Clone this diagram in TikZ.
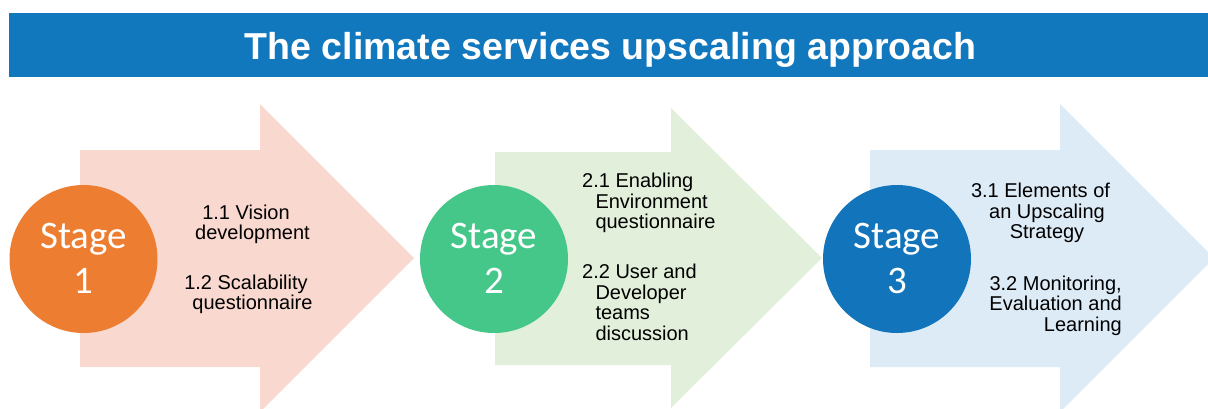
\documentclass[tikz,border=0pt]{standalone}
\usepackage{fontspec}
\setmainfont{Liberation Sans}
\newfontfamily\stagefont{Carlito}
\definecolor{titleblue}{HTML}{1278BE}
\definecolor{pinkarrow}{HTML}{F8D8CF}
\definecolor{greenarrow}{HTML}{E2EFDA}
\definecolor{bluearrow}{HTML}{DDEBF7}
\definecolor{stageorange}{HTML}{ED7D31}
\definecolor{stagegreen}{HTML}{45C78A}
\definecolor{stageblue}{HTML}{1274BA}
\newcommand{\firstline}{\rule{0pt}{15pt}}
\begin{document}
\begin{tikzpicture}[x=1pt,y=-1pt,
  stagecircle/.style={circle,minimum size=148pt,inner sep=0pt},
  stagelabel/.style={anchor=base,inner sep=0pt,text=white,
    font=\stagefont\fontsize{39}{39}\selectfont},
  steptext/.style={inner sep=0pt,font=\fontsize{20}{20.5}\selectfont},
  titletext/.style={anchor=base,inner sep=0pt,text=white,
    font=\bfseries\fontsize{37.5}{37.5}\selectfont}]
\useasboundingbox (0,0) rectangle (1208,408);

% title banner
\fill[titleblue] (9,13) rectangle (1208,77);
\node[titletext] (title) at (610.5,59.3) {The climate services upscaling approach};

% stage arrows
\begin{scope}
\clip (0,0) rectangle (1208,408);
\fill[pinkarrow] (80,150) -- (260,150) -- (260,104) -- (414,258)
  -- (260,412) -- (260,367) -- (80,367) -- cycle;
\fill[greenarrow] (495,152) -- (671,152) -- (671,108) -- (822,258)
  -- (671,408) -- (671,365) -- (495,365) -- cycle;
\fill[bluearrow] (870,150) -- (1060,150) -- (1060,104) -- (1214,258)
  -- (1060,412) -- (1060,367) -- (870,367) -- cycle;
\end{scope}

% stage circles
\node[stagecircle,fill=stageorange] (c1) at (83.5,259) {};
\node[stagecircle,fill=stagegreen]  (c2) at (494,259) {};
\node[stagecircle,fill=stageblue]   (c3) at (897,259) {};
\node[stagelabel] (s1a) at (83.5,248) {Stage};
\node[stagelabel] (s1b) at (83.5,293) {1};
\node[stagelabel] (s2a) at (494,248) {Stage};
\node[stagelabel] (s2b) at (494,293) {2};
\node[stagelabel] (s3a) at (897,248) {Stage};
\node[stagelabel] (s3b) at (897,293) {3};

% stage 1 steps
\node[steptext,align=center,anchor=north] (t11) at (246,204)
  {\firstline 1.1 Vision\\\hspace*{13pt}development};
\node[steptext,align=center,anchor=north] (t12) at (246,274)
  {\firstline 1.2 Scalability\\\hspace*{13pt}questionnaire};

% stage 2 steps
\node[steptext,align=left,anchor=north west] (t21) at (582,172.7)
  {\firstline 2.1 Enabling\\\hspace*{13.3pt}Environment\\\hspace*{13.3pt}questionnaire};
\node[steptext,align=left,anchor=north west] (t22) at (582,263.3)
  {\firstline 2.2 User and\\\hspace*{13.3pt}Developer\\\hspace*{13.3pt}teams\\\hspace*{13.3pt}discussion};

% stage 3 steps
\node[steptext,align=center,anchor=north] (t31) at (1040.5,182.7)
  {\firstline 3.1 Elements of\\\hspace*{13pt}an Upscaling\\\hspace*{13pt}Strategy};
\node[steptext,align=right,anchor=north east] (t32) at (1122,275)
  {\firstline 3.2 Monitoring,\\Evaluation and\\Learning};
\end{tikzpicture}
\end{document}
